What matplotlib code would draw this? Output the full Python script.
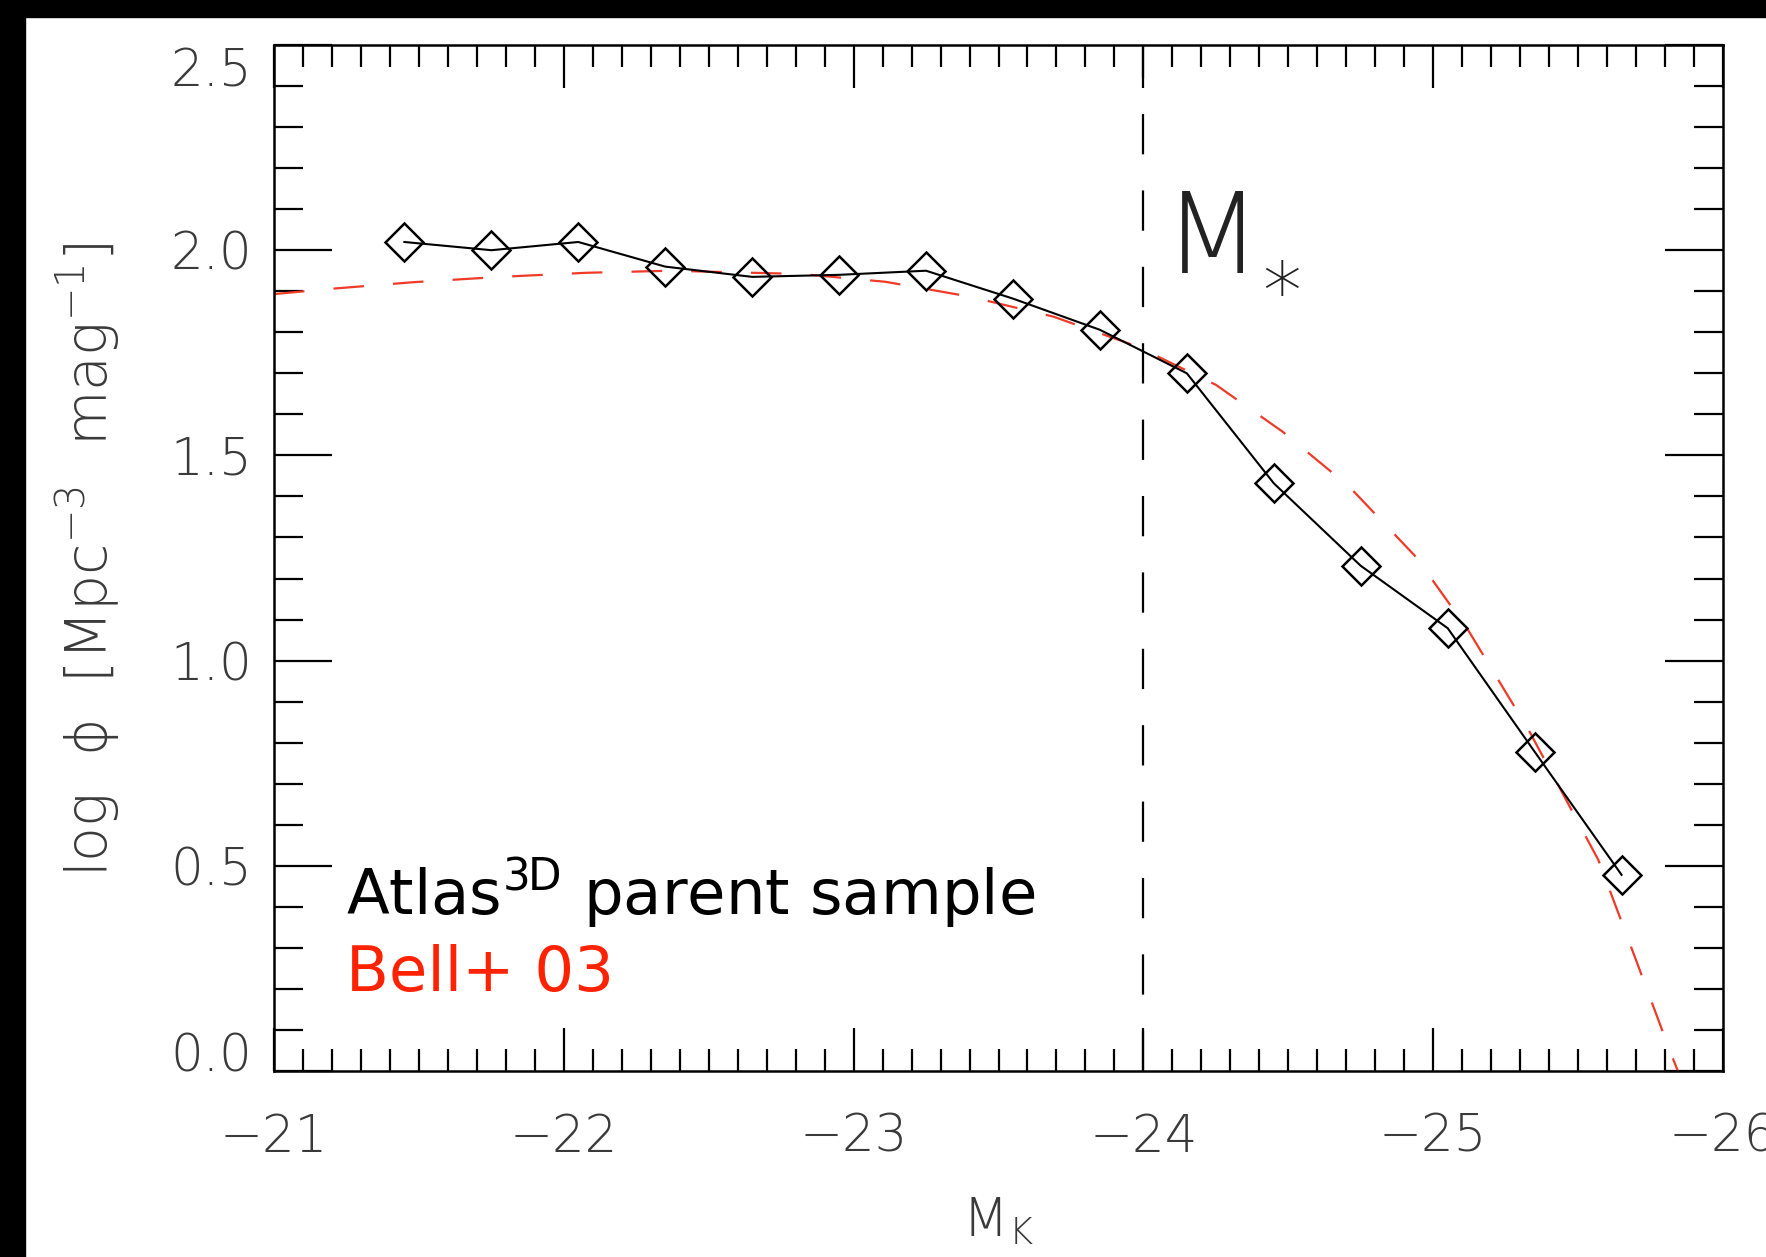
import matplotlib
matplotlib.use("Agg")
import matplotlib.pyplot as plt
from matplotlib.patches import Rectangle
from matplotlib.ticker import MultipleLocator
from matplotlib.transforms import ScaledTranslation

# Atlas3D parent sample, K-band luminosity function
mk = [-21.45, -21.75, -22.05, -22.35, -22.65, -22.95, -23.25, -23.55,
      -23.85, -24.15, -24.45, -24.75, -25.05, -25.35, -25.65]
logphi = [2.02, 2.00, 2.02, 1.96, 1.935, 1.94, 1.95, 1.882,
          1.806, 1.70, 1.432, 1.231, 1.079, 0.778, 0.478]

# Bell+03 curve
bell_mk = [-21.0, -21.18, -21.48, -21.78, -22.08, -22.37, -22.65, -22.82,
           -23.11, -23.40, -23.69, -23.98, -24.25, -24.48, -24.71, -24.94,
           -25.12, -25.33, -25.57, -25.70, -25.82, -25.85]
bell_logphi = [1.893, 1.905, 1.922, 1.935, 1.945, 1.950, 1.945, 1.942,
               1.923, 1.887, 1.838, 1.765, 1.672, 1.558, 1.424, 1.253,
               1.075, 0.83, 0.514, 0.270, 0.043, -0.01]

mstar = -24.0
xticks = [-21, -22, -23, -24, -25, -26]
yticks = [0.0, 0.5, 1.0, 1.5, 2.0, 2.5]

plt.rcParams['lines.scale_dashes'] = False
thin = dict(family=['DejaVu Sans'], weight='light')

W, H = 1766, 1257
fig = plt.figure(figsize=(W / 100, H / 100), dpi=100, facecolor='white')
ax = fig.add_axes([274 / W, 1 - 1071 / H, 1449 / W, 1026 / H])

# black frame of the screenshot
fig.patches.append(Rectangle((0, 0), 25 / W, 1, transform=fig.transFigure,
                             color='black', zorder=0))
fig.patches.append(Rectangle((0, 1 - 17 / H), 1, 17 / H, transform=fig.transFigure,
                             color='black', zorder=0))

ax.plot(bell_mk, bell_logphi, color='#f03a28', lw=1.6, ls=(0, (22, 21)), zorder=2)
ax.plot(mk, logphi, color='black', lw=1.5, marker='D', ms=19, mfc='none',
        mec='black', mew=1.8, zorder=3)
ax.axvline(mstar, color='black', lw=1.6, ls=(0, (29, 26)), zorder=1)

ax.set_xlim(-21, -26)
ax.set_ylim(0, 2.5)
ax.set_xticks(xticks)
ax.set_xticklabels(['\u2212%d' % abs(v) for v in xticks])
ax.set_yticks(yticks)
ax.set_yticklabels(['%.1f' % v for v in yticks])
ax.xaxis.set_minor_locator(MultipleLocator(0.1))
ax.yaxis.set_minor_locator(MultipleLocator(0.1))

for s in ax.spines.values():
    s.set_linewidth(1.8)
ax.tick_params(axis='x', which='major', direction='in', length=31, width=1.6,
               top=True, pad=30)
ax.tick_params(axis='x', which='minor', direction='in', length=16, width=1.6, top=True)
ax.tick_params(axis='y', which='major', direction='in', length=42, width=1.6,
               right=True, pad=16)
ax.tick_params(axis='y', which='minor', direction='in', length=21, width=1.6, right=True)
for lab in ax.get_xticklabels() + ax.get_yticklabels():
    lab.set_fontsize(37)
    lab.set_color('#3a3a3a')
    lab.set_family(thin['family'])
    lab.set_weight('light')

# end labels of the y axis sit a little inside the frame
yt = ax.yaxis.get_major_ticks()
yt[0].label1.set_transform(yt[0].label1.get_transform()
                           + ScaledTranslation(0, 0.19, fig.dpi_scale_trans))
yt[-1].label1.set_transform(yt[-1].label1.get_transform()
                            + ScaledTranslation(0, -0.22, fig.dpi_scale_trans))

fig.text(88 / W, 1 - 560 / H,
         'log  \u03d5  [Mpc$^{\\mathregular{-3}}$  mag$^{\\mathregular{-1}}$]',
         rotation=90, ha='center', va='center', fontsize=41, color='#3a3a3a', **thin)
fig.text(998 / W, 1 - 1222 / H, r'M$_{\mathregular{K}}$', ha='center', va='center',
         fontsize=38, color='#3a3a3a', **thin)

ax.text(1164 / W, 1 - 273 / H, 'M', transform=fig.transFigure, ha='left',
        va='baseline', fontsize=81, color='#222222', **thin)
ax.text(1282 / W, 1 - 296 / H, '*', transform=fig.transFigure, ha='center',
        va='center', fontsize=56, color='#222222', **thin)

fig.text(346 / W, 1 - 915 / H, r'Atlas$^{\mathregular{3D}}$ parent sample', ha='left',
         va='baseline', fontsize=45, color='black', family='DejaVu Sans')
fig.text(346 / W, 1 - 991 / H, 'Bell+ 03', ha='left', va='baseline',
         fontsize=45, color='#ff2200', family='DejaVu Sans')

fig.savefig('out.png', dpi=100, facecolor='white')
